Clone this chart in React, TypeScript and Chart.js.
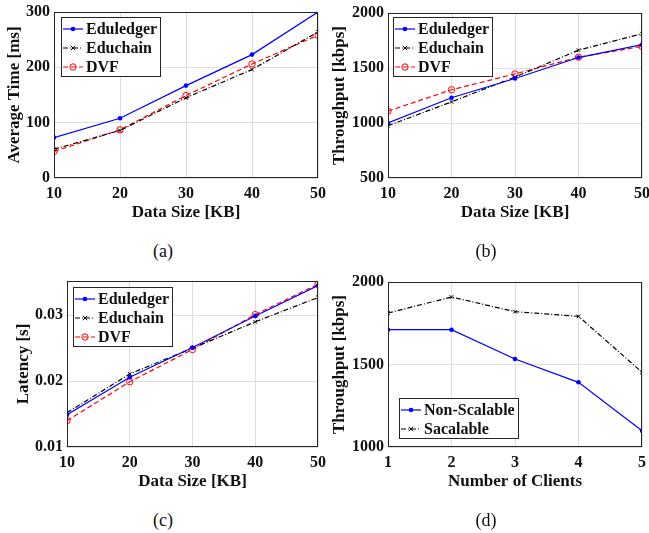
import React, { useEffect, useRef } from 'react';
import { Chart, registerables } from 'chart.js';
Chart.register(...registerables);

// ---- data ----
const dataSizes = [10, 20, 30, 40, 50];
const clientCounts = [1, 2, 3, 4, 5];
const timeEduledger = [73, 108, 167, 223, 300];
const timeEduchain = [52, 86, 145, 196, 264];
const timeDVF = [48, 87, 149, 206, 258];
const thrEduledger = [1000, 1230, 1405, 1595, 1712];
const thrEduchain = [975, 1192, 1418, 1662, 1812];
const thrDVF = [1108, 1302, 1446, 1598, 1696];
const latEduledger = [0.0149, 0.0206, 0.0251, 0.0299, 0.0345];
const latEduchain = [0.0152, 0.0211, 0.025, 0.029, 0.0327];
const latDVF = [0.014, 0.0199, 0.0248, 0.0301, 0.0347];
const nonScalable = [1711, 1711, 1533, 1392, 1099];
const scalable = [1812, 1909, 1820, 1792, 1453];

const FONT = "'Liberation Serif', 'Times New Roman', serif";
const TXT = '#111111';
const AXIS = '#262626';
const GRID = '#dedede';

type Marker = 'dot' | 'x' | 'o';
interface SeriesStyle { label: string; color: string; dash: number[]; marker: Marker; }
const S_EDULEDGER: SeriesStyle = { label: 'Eduledger', color: '#0000ff', dash: [], marker: 'dot' };
const S_EDUCHAIN: SeriesStyle = { label: 'Educhain', color: '#000000', dash: [5, 2, 1, 2], marker: 'x' };
const S_DVF: SeriesStyle = { label: 'DVF', color: '#ff0000', dash: [5, 3], marker: 'o' };
const S_NONSCAL: SeriesStyle = { label: 'Non-Scalable', color: '#0000ff', dash: [], marker: 'dot' };
const S_SCAL: SeriesStyle = { label: 'Sacalable', color: '#000000', dash: [5, 2, 1, 2], marker: 'x' };

interface Panel {
  canvas: { x: number; y: number; w: number; h: number };
  plot: { l: number; t: number; r: number; b: number };
  xs: number[];
  series: { style: SeriesStyle; values: number[] }[];
  xMin: number; xMax: number; xStep: number;
  yMin: number; yMax: number; yStep: number; yDec: number;
  xTitle: string; yTitle: string;
  yTitleCx: number; xTitleCy: number;
  legend: { x: number; y: number };
}

const panels: Panel[] = [
  {
    canvas: { x: 0, y: 0, w: 330, h: 232 },
    plot: { l: 54, t: 12, r: 318, b: 178 },
    xs: dataSizes,
    series: [
      { style: S_EDULEDGER, values: timeEduledger },
      { style: S_EDUCHAIN, values: timeEduchain },
      { style: S_DVF, values: timeDVF },
    ],
    xMin: 10, xMax: 50, xStep: 10, yMin: 0, yMax: 300, yStep: 100, yDec: 0,
    xTitle: 'Data Size [KB]', yTitle: 'Average Time [ms]',
    yTitleCx: 15, xTitleCy: 213, legend: { x: 61, y: 17 },
  },
  {
    canvas: { x: 328, y: 0, w: 321, h: 232 },
    plot: { l: 388, t: 13, r: 642, b: 178 },
    xs: dataSizes,
    series: [
      { style: S_EDULEDGER, values: thrEduledger },
      { style: S_EDUCHAIN, values: thrEduchain },
      { style: S_DVF, values: thrDVF },
    ],
    xMin: 10, xMax: 50, xStep: 10, yMin: 500, yMax: 2000, yStep: 500, yDec: 0,
    xTitle: 'Data Size [KB]', yTitle: 'Throughput [kbps]',
    yTitleCx: 340, xTitleCy: 213, legend: { x: 393, y: 17 },
  },
  {
    canvas: { x: 0, y: 265, w: 330, h: 232 },
    plot: { l: 67, t: 281, r: 318, b: 447 },
    xs: dataSizes,
    series: [
      { style: S_EDULEDGER, values: latEduledger },
      { style: S_EDUCHAIN, values: latEduchain },
      { style: S_DVF, values: latDVF },
    ],
    xMin: 10, xMax: 50, xStep: 10, yMin: 0.01, yMax: 0.0352, yStep: 0.01, yDec: 2,
    xTitle: 'Data Size [KB]', yTitle: 'Latency [s]',
    yTitleCx: 24, xTitleCy: 482, legend: { x: 73, y: 287 },
  },
  {
    canvas: { x: 328, y: 265, w: 321, h: 232 },
    plot: { l: 388, t: 282, r: 642, b: 447 },
    xs: clientCounts,
    series: [
      { style: S_NONSCAL, values: nonScalable },
      { style: S_SCAL, values: scalable },
    ],
    xMin: 1, xMax: 5, xStep: 1, yMin: 1000, yMax: 2000, yStep: 500, yDec: 0,
    xTitle: 'Number of Clients', yTitle: 'Throughput [kbps]',
    yTitleCx: 340, xTitleCy: 482, legend: { x: 399, y: 398 },
  },
];

const captions = [
  { text: '(a)', cx: 163, cy: 251 },
  { text: '(b)', cx: 486, cy: 251 },
  { text: '(c)', cx: 163, cy: 520 },
  { text: '(d)', cx: 486, cy: 520 },
];

function drawMarker(ctx: CanvasRenderingContext2D, m: Marker, color: string, x: number, y: number) {
  ctx.save();
  ctx.setLineDash([]);
  ctx.strokeStyle = color;
  ctx.fillStyle = color;
  ctx.lineWidth = 1;
  if (m === 'dot') {
    ctx.beginPath(); ctx.arc(x, y, 2.3, 0, Math.PI * 2); ctx.fill();
  } else if (m === 'x') {
    const r = 2.2;
    ctx.beginPath();
    ctx.moveTo(x - r, y - r); ctx.lineTo(x + r, y + r);
    ctx.moveTo(x - r, y + r); ctx.lineTo(x + r, y - r);
    ctx.stroke();
  } else {
    ctx.beginPath(); ctx.arc(x, y, 3.2, 0, Math.PI * 2); ctx.stroke();
  }
  ctx.restore();
}

function makePlugin(p: Panel) {
  return {
    id: 'frameLegend',
    afterDraw(chart: any) {
      const ctx: CanvasRenderingContext2D = chart.ctx;
      const a = chart.chartArea;
      ctx.save();
      ctx.strokeStyle = AXIS;
      ctx.lineWidth = 1;
      ctx.setLineDash([]);
      ctx.strokeRect(Math.round(a.left) + 0.5, Math.round(a.top) + 0.5, Math.round(a.right - a.left) - 1 + 0, Math.round(a.bottom - a.top) - 1 + 0);
      // legend
      ctx.font = `bold 16px ${FONT}`;
      let maxW = 0;
      p.series.forEach((s) => { maxW = Math.max(maxW, ctx.measureText(s.style.label).width); });
      const lx = p.legend.x - p.canvas.x;
      const ly = p.legend.y - p.canvas.y;
      const w = 25 + maxW + 3;
      const h = 19 * p.series.length + 2;
      ctx.fillStyle = '#ffffff';
      ctx.fillRect(lx, ly, w, h);
      ctx.strokeStyle = AXIS;
      ctx.strokeRect(Math.round(lx) + 0.5, Math.round(ly) + 0.5, Math.round(w), Math.round(h));
      p.series.forEach((s, i) => {
        const ry = ly + 12 + 19 * i;
        ctx.save();
        ctx.strokeStyle = s.style.color;
        ctx.lineWidth = 1.2;
        ctx.setLineDash(s.style.dash);
        ctx.beginPath(); ctx.moveTo(lx + 2, ry); ctx.lineTo(lx + 22, ry); ctx.stroke();
        ctx.restore();
        drawMarker(ctx, s.style.marker, s.style.color, lx + 12, ry);
        ctx.fillStyle = TXT;
        ctx.textBaseline = 'middle';
        ctx.textAlign = 'left';
        ctx.fillText(s.style.label, lx + 25, ry + 1);
      });
      ctx.restore();
    },
  };
}

function PanelChart({ p }: { p: Panel }) {
  const ref = useRef<HTMLCanvasElement>(null);
  useEffect(() => {
    const c = p.canvas;
    const plotL = p.plot.l - c.x;
    const plotT = p.plot.t - c.y;
    const plotR = p.plot.r - c.x;
    const plotB = p.plot.b - c.y;
    const lh = 17 * 1.2;
    const chart = new Chart(ref.current as HTMLCanvasElement, {
      type: 'line',
      data: {
        datasets: p.series.map((s) => ({
          label: s.style.label,
          data: s.values.map((v, i) => ({ x: p.xs[i], y: v })),
          borderColor: s.style.color,
          borderWidth: 1.2,
          borderDash: s.style.dash,
          tension: 0,
          fill: false,
          pointStyle: s.style.marker === 'x' ? 'crossRot' : 'circle',
          pointRadius: s.style.marker === 'o' ? 3.2 : s.style.marker === 'x' ? 2.6 : 2.3,
          pointBorderWidth: s.style.marker === 'dot' ? 0 : 1,
          pointBorderColor: s.style.color,
          pointBackgroundColor: s.style.marker === 'dot' ? s.style.color : 'rgba(0,0,0,0)',
          backgroundColor: s.style.color,
        })),
      },
      options: {
        animation: false,
        responsive: false,
        maintainAspectRatio: false,
        layout: { padding: { left: 0, top: plotT, right: c.w - plotR, bottom: 0 } },
        plugins: { legend: { display: false }, tooltip: { enabled: false }, title: { display: false } },
        scales: {
          x: {
            type: 'linear',
            min: p.xMin, max: p.xMax,
            ticks: {
              stepSize: p.xStep, includeBounds: false, padding: 6, color: TXT,
              font: { family: FONT, size: 16, weight: 'bold' },
              callback: (v: any) => String(v),
            },
            grid: { color: GRID, drawTicks: false, lineWidth: 1 },
            border: { display: false },
            title: {
              display: true, text: p.xTitle, color: TXT,
              font: { family: FONT, size: 17, weight: 'bold', lineHeight: 1.2 },
              padding: { top: 0, bottom: Math.max(0, c.h - (p.xTitleCy - c.y) - lh / 2) },
            },
            afterFit: (s: any) => { s.height = c.h - plotB; s.paddingLeft = 0; s.paddingRight = 0; },
          },
          y: {
            type: 'linear',
            min: p.yMin, max: p.yMax,
            ticks: {
              stepSize: p.yStep, includeBounds: false, padding: 4, color: TXT,
              font: { family: FONT, size: 16, weight: 'bold' },
              callback: (v: any) => Number(v).toFixed(p.yDec),
            },
            grid: { color: GRID, drawTicks: false, lineWidth: 1 },
            border: { display: false },
            title: {
              display: true, text: p.yTitle, color: TXT,
              font: { family: FONT, size: 17, weight: 'bold', lineHeight: 1.2 },
              padding: { top: Math.max(0, p.yTitleCx - c.x - lh / 2), bottom: 0 },
            },
            afterFit: (s: any) => { s.width = plotL; s.paddingTop = 0; s.paddingBottom = 0; },
          },
        },
      } as any,
      plugins: [makePlugin(p)],
    });
    return () => chart.destroy();
  }, [p]);
  return (
    <canvas
      ref={ref}
      width={p.canvas.w}
      height={p.canvas.h}
      style={{ position: 'absolute', left: p.canvas.x, top: p.canvas.y, width: p.canvas.w, height: p.canvas.h }}
    />
  );
}

export default function App() {
  return (
    <div style={{ position: 'absolute', left: 0, top: 0, width: 649, height: 533, overflow: 'hidden', background: '#ffffff' }}>
      {panels.map((p, i) => <PanelChart key={i} p={p} />)}
      {captions.map((c, i) => (
        <div key={'c' + i} style={{
          position: 'absolute', left: c.cx - 30, top: c.cy - 11, width: 60, height: 22, lineHeight: '22px',
          textAlign: 'center', fontFamily: FONT, fontSize: 18, color: TXT,
        }}>{c.text}</div>
      ))}
    </div>
  );
}
